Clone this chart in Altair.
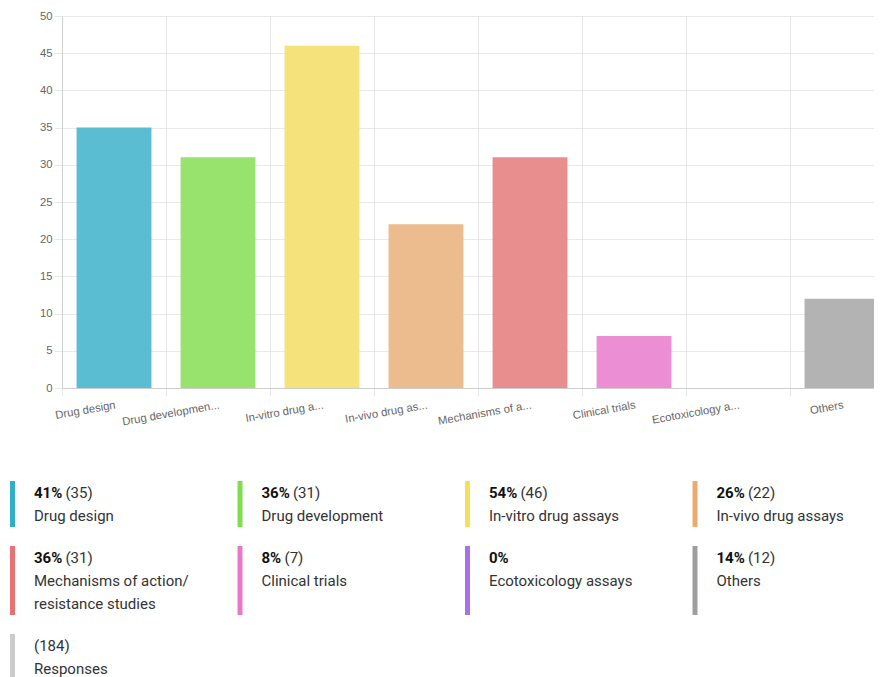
import altair as alt
import pandas as pd

# ---------------- data ----------------
categories = ["Drug design", "Drug development", "In-vitro drug assays", "In-vivo drug assays",
              "Mechanisms of action/resistance studies", "Clinical trials", "Ecotoxicology assays", "Others"]
counts = [35, 31, 46, 22, 31, 7, 0, 12]
percents = [41, 36, 54, 26, 36, 8, 0, 14]
legend_lines = [["Drug design"], ["Drug development"], ["In-vitro drug assays"], ["In-vivo drug assays"],
                ["Mechanisms of action/", "resistance studies"], ["Clinical trials"],
                ["Ecotoxicology assays"], ["Others"]]
bar_colors = ["#5bbdd1", "#98e36e", "#f6e27a", "#ecbb8e", "#e98e8e", "#ec8ed4", "#b58ef0", "#b3b3b3"]
legend_colors = ["#33aec8", "#80dc50", "#f6df5a", "#eaaa70", "#e57373", "#e67ac9", "#a771e8", "#9e9e9e"]
responses_total = 184
responses_label = "Responses"
responses_color = "#cccccc"

# ---------------- layout constants ----------------
LINE = 23
GAP = 19
COL_STEP = 227.5
TEXT_OFF = 24
PER_ROW = 4

bars_df = pd.DataFrame({"cat": categories, "count": counts, "color": bar_colors})

# legend items
items = []
for i, c in enumerate(categories):
    items.append({
        "bold": f"{percents[i]}%",
        "normal": f"({counts[i]})" if counts[i] else "",
        "lines": legend_lines[i],
        "color": legend_colors[i],
    })
items.append({"bold": "", "normal": f"({responses_total})", "lines": [responses_label],
              "color": responses_color})


def bold_width(s):
    if not s:
        return 0.0
    w = 0.0
    for ch in s:
        w += 10.8 if ch == "%" else 8.42
    return w + 3.8


rule_rows, bold_rows, normal_rows, label_rows = [], [], [], []
top = 0.0
n_rows = (len(items) + PER_ROW - 1) // PER_ROW
for r in range(n_rows):
    row_items = items[r * PER_ROW:(r + 1) * PER_ROW]
    row_n = max(1 + len(it["lines"]) for it in row_items)
    for c, it in enumerate(row_items):
        x0 = c * COL_STEP
        rule_rows.append({"px": x0 + 2.5, "py": top, "py2": top + row_n * LINE, "color": it["color"]})
        yl = top + 11.5
        if it["bold"]:
            bold_rows.append({"px": x0 + TEXT_OFF, "py": yl, "text": it["bold"]})
        if it["normal"]:
            normal_rows.append({"px": x0 + TEXT_OFF + bold_width(it["bold"]), "py": yl, "text": it["normal"]})
        for j, ln in enumerate(it["lines"]):
            label_rows.append({"px": x0 + TEXT_OFF, "py": yl + LINE * (j + 1), "text": ln})
    top += row_n * LINE + GAP

AXIS_FONT = "Liberation Sans"
LEG_FONT = "Roboto"

# ---------------- bar chart ----------------
bars = alt.Chart(bars_df).mark_bar(width=alt.RelativeBandSize(0.72)).encode(
    x=alt.X("cat:N", sort=categories, title=None,
            scale=alt.Scale(paddingInner=0, paddingOuter=0, range=[0, 832]),
            axis=alt.Axis(tickBand="extent", grid=True, tickSize=8, labelAngle=-10,
                          labelAlign="right", labelBaseline="top", labelPadding=3,
                          labelOverlap=False, labelLimit=0, labelFont=AXIS_FONT,
                          labelFontSize=11.3, labelColor="#666666",
                          labelExpr="length(datum.label) > 15 ? substring(datum.label, 0, 15) + '...' : datum.label")),
    y=alt.Y("count:Q", title=None,
            scale=alt.Scale(domain=[0, 50], nice=False),
            axis=alt.Axis(values=list(range(0, 51, 5)), tickSize=8, labelPadding=2,
                          labelFont=AXIS_FONT, labelFontSize=11.3, labelColor="#666666", grid=True)),
    color=alt.Color("color:N", scale=None),
)

leg_x = alt.Scale(domain=[0, 1000], range=[-52, 948])
leg_y = alt.Scale(domain=[0, 1000], range=[465, 1465])

leg_rules = alt.Chart(pd.DataFrame(rule_rows)).mark_rule(strokeWidth=5).encode(
    x=alt.X("px:Q", scale=leg_x, axis=None),
    y=alt.Y("py:Q", scale=leg_y, axis=None),
    y2="py2:Q",
    color=alt.Color("color:N", scale=None),
)

leg_bold = alt.Chart(pd.DataFrame(bold_rows)).mark_text(
    align="left", baseline="middle", font=LEG_FONT, fontSize=15, fontWeight="bold", color="#111111"
).encode(
    x=alt.X("px:Q", scale=leg_x, axis=None),
    y=alt.Y("py:Q", scale=leg_y, axis=None),
    text="text:N",
)

leg_normal = alt.Chart(pd.DataFrame(normal_rows)).mark_text(
    align="left", baseline="middle", font=LEG_FONT, fontSize=15, color="#333333"
).encode(
    x=alt.X("px:Q", scale=leg_x, axis=None),
    y=alt.Y("py:Q", scale=leg_y, axis=None),
    text="text:N",
)

leg_labels = alt.Chart(pd.DataFrame(label_rows)).mark_text(
    align="left", baseline="middle", font=LEG_FONT, fontSize=15, color="#333333"
).encode(
    x=alt.X("px:Q", scale=leg_x, axis=None),
    y=alt.Y("py:Q", scale=leg_y, axis=None),
    text="text:N",
)

chart = alt.layer(bars, leg_rules, leg_bold, leg_normal, leg_labels).resolve_scale(
    x="independent", y="independent"
).properties(
    width=812, height=372,
    autosize=alt.AutoSizeParams(type="none"),
    padding={"left": 54, "top": 8, "right": 0, "bottom": 300},
).configure_view(stroke=None).configure_axis(
    gridColor="#e8e8e8", tickColor="#e8e8e8", domainColor="#cfcfcf"
)

chart.save("out.html", embed_options={"renderer": "svg", "actions": False})
